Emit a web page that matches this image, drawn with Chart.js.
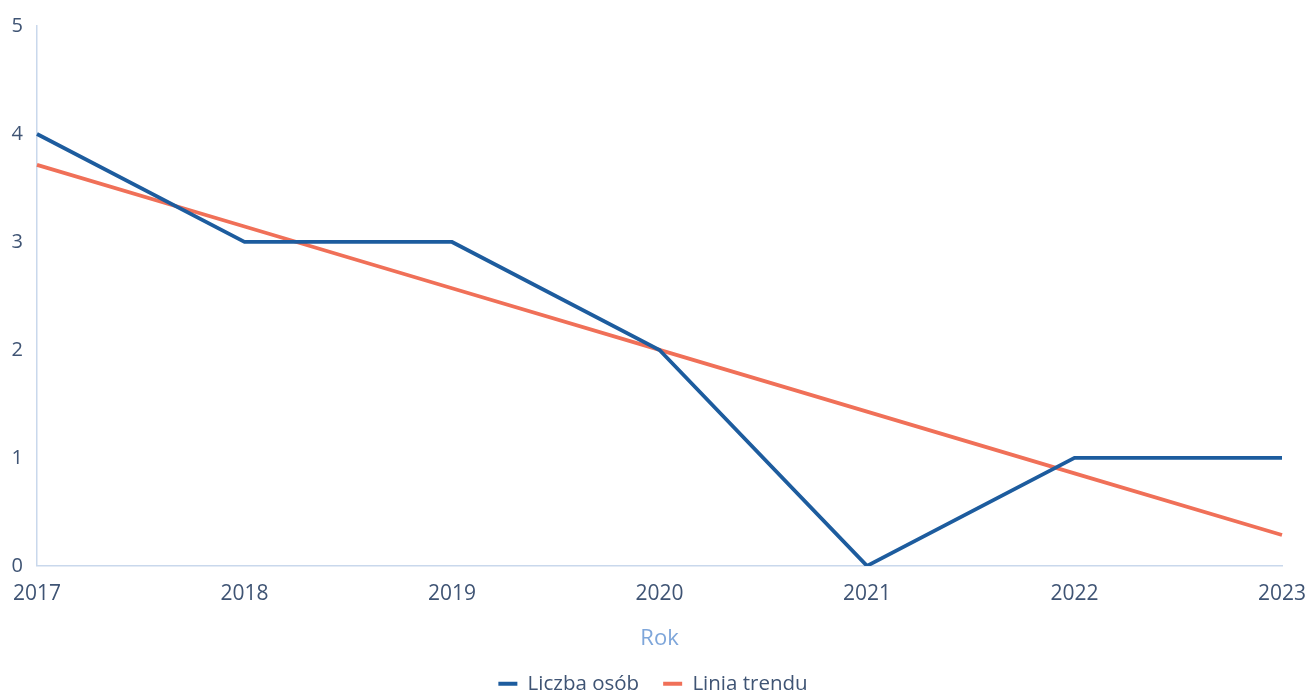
<!DOCTYPE html>
<html><head><meta charset="utf-8">
<script src="https://cdn.jsdelivr.net/npm/chart.js@4"></script>
<style>html,body{margin:0;padding:0;background:#fff;}#c{display:block;}</style>
</head><body>
<canvas id="c" width="1306" height="694"></canvas>
<script>
const years = ['2017','2018','2019','2020','2021','2022','2023'];
const liczbaOsob = [4, 3, 3, 2, 0, 1, 1];
const liniaTrendu = [3.714, 3.143, 2.571, 2.0, 1.429, 0.857, 0.286];
const yTicks = [0, 1, 2, 3, 4, 5];

const textColor = '#3f5474';
const axisColor = '#c9d8ec';
new Chart(document.getElementById('c'), {
  type: 'line',
  data: {
    labels: years,
    datasets: [
      {label: 'Liczba osób', data: liczbaOsob, borderColor: '#1d5c9e', backgroundColor: '#1d5c9e', borderWidth: 3.8, pointRadius: 0, tension: 0},
      {label: 'Linia trendu', data: liniaTrendu, borderColor: '#f07058', backgroundColor: '#f07058', borderWidth: 3.8, pointRadius: 0, tension: 0}
    ]
  },
  options: {
    responsive: false,
    animation: false,
    layout: {padding: {left: 0, right: 0, top: 8, bottom: -10}},
    plugins: {
      legend: {position: 'bottom', labels: {
        boxWidth: 19, boxHeight: 4, color: textColor, font: {family: 'Open Sans', size: 20.5}, padding: 24,
        generateLabels(chart) {
          const items = Chart.defaults.plugins.legend.labels.generateLabels(chart);
          items.forEach(i => { i.lineWidth = 0; });
          return items;
        }
      }},
      tooltip: {enabled: false}
    },
    scales: {
      x: {
        grid: {display: false, drawTicks: false},
        border: {display: true, color: axisColor, width: 1.5},
        offset: false,
        afterFit(s) { s.paddingRight = 24; s.paddingLeft = 0; },
        ticks: {color: textColor, font: {family: 'Open Sans', size: 21}, padding: 16, maxRotation: 0},
        title: {display: true, text: 'Rok', color: '#7ea6da', font: {family: 'Open Sans', size: 22}, padding: {top: 2, bottom: -2}}
      },
      y: {
        min: 0, max: 5,
        afterBuildTicks: (s) => { s.ticks = yTicks.map(v => ({value: v})); },
        afterFit(s) { s.width = 37; },
        grid: {display: false, drawTicks: false},
        border: {display: true, color: axisColor, width: 1.5, dash: [2, 2]},
        ticks: {color: textColor, font: {family: 'Open Sans', size: 20}, padding: 14}
      }
    }
  }
});
</script>
</body></html>
